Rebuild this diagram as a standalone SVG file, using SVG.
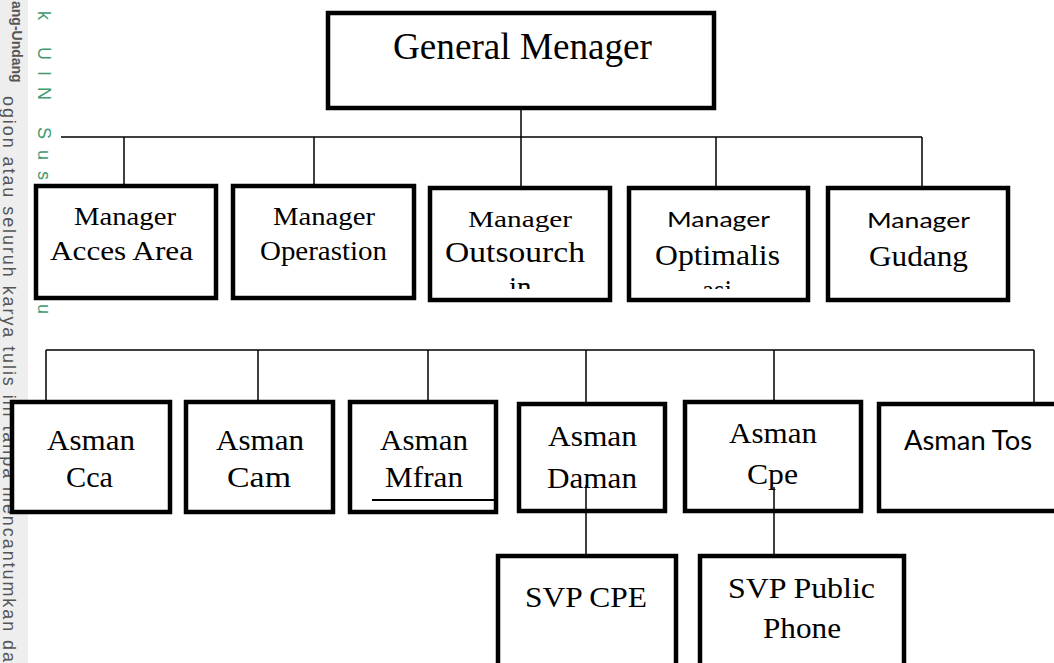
<svg xmlns="http://www.w3.org/2000/svg" width="1054" height="663" viewBox="0 0 1054 663">
<style>
.box{fill:#fff;stroke:#000;stroke-width:4.5}
.ln{stroke:#000;stroke-width:1.5;fill:none}
.sr{font-family:"Liberation Serif","Times New Roman",serif;fill:#000}
.ss{font-family:Lato,"Liberation Sans",sans-serif;fill:#000}
.wm{font-family:"Liberation Sans",Arial,sans-serif;fill:#555}
.gr{font-family:"Liberation Sans",Arial,sans-serif;fill:#3f9a70}
</style>
<defs>
<clipPath id="c3"><rect x="432" y="190" width="176" height="99"/></clipPath>
<clipPath id="c4"><rect x="631" y="190" width="175" height="99"/></clipPath>
</defs>
<rect width="1054" height="663" fill="#fff"/>
<rect x="0" y="0" width="28" height="663" fill="#eeeeee"/>
<g id="watermark">
<text class="wm" font-size="14" font-weight="bold" transform="translate(12,1) rotate(90)">ang-Undang</text>
<text class="wm" font-size="18" transform="translate(3,96) rotate(90)" textLength="566" lengthAdjust="spacing">ogion atau seluruh karya tulis ini tanpa mencantumkan da</text>
<text class="gr" font-size="18" letter-spacing="11" transform="translate(38,11) rotate(90)">k UIN Sus</text>
<text class="gr" font-size="18" transform="translate(38,304) rotate(90)">u</text>
</g>
<g id="connectors">
<line class="ln" x1="521" y1="92" x2="521" y2="186"/>
<line class="ln" x1="61" y1="137" x2="922" y2="137"/>
<line class="ln" x1="124" y1="137" x2="124" y2="184"/>
<line class="ln" x1="314" y1="137" x2="314" y2="184"/>
<line class="ln" x1="716" y1="137" x2="716" y2="186"/>
<line class="ln" x1="922" y1="137" x2="922" y2="186"/>
<line class="ln" x1="46" y1="350" x2="1034" y2="350"/>
<line class="ln" x1="46" y1="350" x2="46" y2="400"/>
<line class="ln" x1="258" y1="350" x2="258" y2="400"/>
<line class="ln" x1="428" y1="350" x2="428" y2="400"/>
<line class="ln" x1="586" y1="350" x2="586" y2="402"/>
<line class="ln" x1="774" y1="350" x2="774" y2="400"/>
<line class="ln" x1="1034" y1="350" x2="1034" y2="402"/>
</g>
<g id="gm"><rect class="box" x="328" y="13" width="386" height="95"/><text class="sr" x="393" y="59" font-size="37" textLength="259" lengthAdjust="spacingAndGlyphs">General Menager</text></g>
<g id="m1"><rect class="box" x="36" y="186" width="180" height="112"/>
<text class="sr" x="74" y="225" font-size="25" textLength="102" lengthAdjust="spacingAndGlyphs">Manager</text>
<text class="sr" x="50" y="260" font-size="28" textLength="143" lengthAdjust="spacingAndGlyphs">Acces Area</text></g>
<g id="m2"><rect class="box" x="233" y="186" width="181" height="112"/>
<text class="sr" x="273" y="225" font-size="25" textLength="102" lengthAdjust="spacingAndGlyphs">Manager</text>
<text class="sr" x="260" y="260" font-size="28" textLength="127" lengthAdjust="spacingAndGlyphs">Operastion</text></g>
<g id="m3"><rect class="box" x="430" y="188" width="180" height="112"/>
<g clip-path="url(#c3)">
<text class="sr" x="468" y="227" font-size="24" textLength="104" lengthAdjust="spacingAndGlyphs">Manager</text>
<text class="sr" x="445" y="262" font-size="29" textLength="140" lengthAdjust="spacingAndGlyphs">Outsourch</text>
<text class="sr" x="509" y="297" font-size="29">in</text></g></g>
<g id="m4"><rect class="box" x="629" y="188" width="179" height="112"/>
<g clip-path="url(#c4)">
<text class="ss" x="667" y="227" font-size="21" textLength="103" lengthAdjust="spacingAndGlyphs">Manager</text>
<text class="sr" x="655" y="265" font-size="29" textLength="125" lengthAdjust="spacingAndGlyphs">Optimalis</text>
<text class="sr" x="702" y="300" font-size="29" textLength="30" lengthAdjust="spacingAndGlyphs">asi</text></g></g>
<g id="m5"><rect class="box" x="828" y="188" width="180" height="112"/>
<text class="ss" x="867" y="228" font-size="22" textLength="103" lengthAdjust="spacingAndGlyphs">Manager</text>
<text class="sr" x="869" y="266" font-size="29" textLength="99" lengthAdjust="spacingAndGlyphs">Gudang</text></g>
<g id="a1"><rect class="box" x="12" y="402" width="158" height="110"/>
<text class="sr" x="47" y="450" font-size="30" textLength="88" lengthAdjust="spacingAndGlyphs">Asman</text>
<text class="sr" x="66" y="487" font-size="30" textLength="47" lengthAdjust="spacingAndGlyphs">Cca</text></g>
<g id="a2"><rect class="box" x="186" y="402" width="147" height="110"/>
<text class="sr" x="216" y="450" font-size="30" textLength="88" lengthAdjust="spacingAndGlyphs">Asman</text>
<text class="sr" x="227" y="487" font-size="30" textLength="64" lengthAdjust="spacingAndGlyphs">Cam</text></g>
<g id="a3"><rect class="box" x="350" y="402" width="146" height="110"/>
<text class="sr" x="380" y="450" font-size="30" textLength="88" lengthAdjust="spacingAndGlyphs">Asman</text>
<text class="sr" x="385" y="487" font-size="30" textLength="78" lengthAdjust="spacingAndGlyphs">Mfran</text>
<line x1="372" y1="500" x2="496" y2="500" stroke="#000" stroke-width="2"/></g>
<g id="a4"><rect class="box" x="519" y="404" width="146" height="107"/>
<text class="sr" x="548" y="446" font-size="30" textLength="89" lengthAdjust="spacingAndGlyphs">Asman</text>
<text class="sr" x="547" y="488" font-size="30" textLength="90" lengthAdjust="spacingAndGlyphs">Daman</text></g>
<g id="a5"><rect class="box" x="685" y="402" width="176" height="109"/>
<text class="sr" x="729" y="443" font-size="30" textLength="88" lengthAdjust="spacingAndGlyphs">Asman</text>
<text class="sr" x="747" y="484" font-size="30" textLength="51" lengthAdjust="spacingAndGlyphs">Cpe</text></g>
<g id="a6"><rect class="box" x="879" y="404" width="180" height="107"/>
<text class="ss" x="904" y="450" font-size="26" textLength="128" lengthAdjust="spacingAndGlyphs">Asman Tos</text></g>
<g id="connectors2">
<line class="ln" x1="586" y1="485" x2="586" y2="556"/>
<line class="ln" x1="774" y1="487" x2="774" y2="556"/>
</g>
<g id="s1"><rect class="box" x="498" y="556" width="178" height="130"/>
<text class="sr" x="525" y="607" font-size="30" textLength="122" lengthAdjust="spacingAndGlyphs">SVP CPE</text></g>
<g id="s2"><rect class="box" x="700" y="556" width="204" height="130"/>
<text class="sr" x="728" y="598" font-size="30" textLength="147" lengthAdjust="spacingAndGlyphs">SVP Public</text>
<text class="sr" x="763" y="638" font-size="30" textLength="78" lengthAdjust="spacingAndGlyphs">Phone</text></g>
</svg>
